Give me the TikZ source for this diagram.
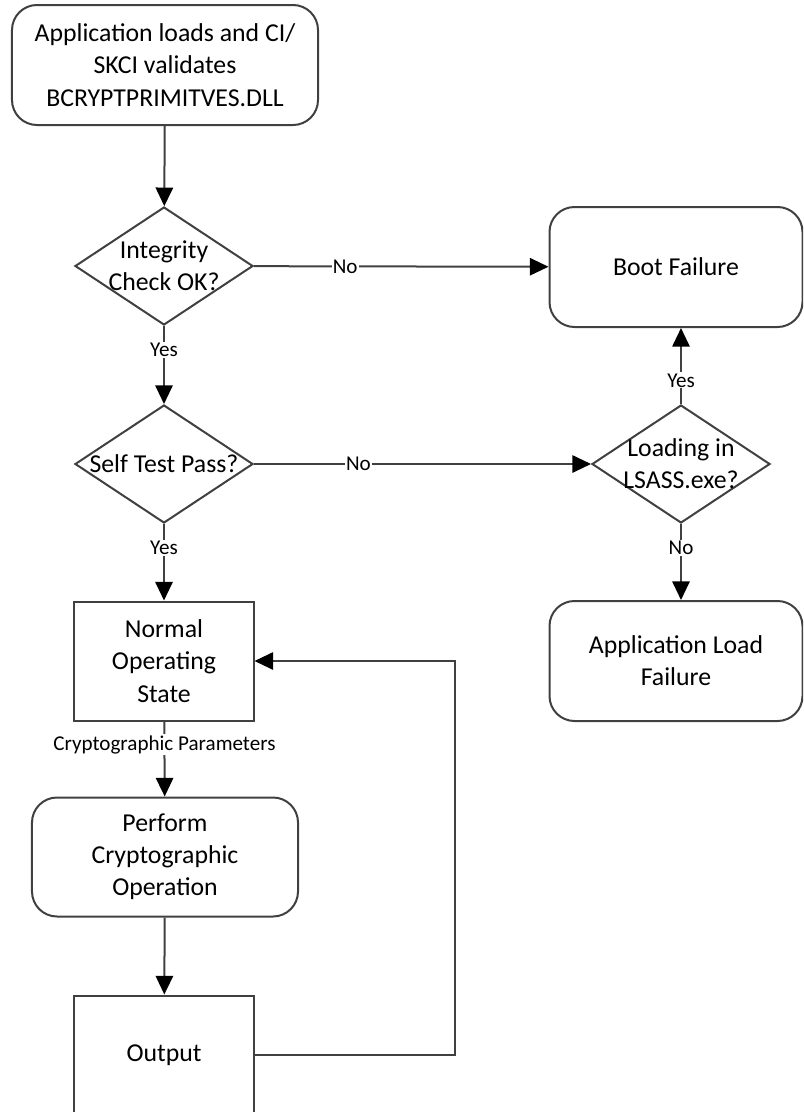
\documentclass[tikz,border=0pt]{standalone}
\usepackage{fontspec}
\setmainfont{Carlito}
\usetikzlibrary{shapes.geometric,arrows.meta}

\tikzset{
    flow/.style={draw=black!75, line width=0.06cm, -{Triangle[length=0.56cm,width=0.52cm,black]}},
    lab/.style={pos=0.31, fill=white, inner sep=1pt, font=\fontsize{18}{21}\selectfont},
    roundbox/.style={draw=black!75, line width=0.06cm, rounded corners=0.75cm, align=center, minimum height=3.6cm},
    plainbox/.style={draw=black!75, line width=0.06cm, align=center, minimum width=5.37cm, minimum height=3.57cm},
    decision/.style={draw=black!75, line width=0.06cm, diamond, inner sep=0pt, minimum width=5.34cm, minimum height=3.54cm}
}

\begin{document}
\begin{tikzpicture}[x=0.03cm, y=-0.03cm, font=\fontsize{22}{27.5}\selectfont]

    \useasboundingbox (0,0) rectangle (803,1112);
    \clip (0,0) rectangle (803,1112);
    
    
    \begin{scope}[]
    
    \node[roundbox, minimum width=9.18cm] (start) at (165,65) {Application loads and CI/\\SKCI validates\\BCRYPTPRIMITVES.DLL};
    \node[decision, label={[align=center]center:Integrity\\Check OK?}] (chk) at (164,266) {};
    \node[roundbox, minimum width=7.59cm] (boot) at (676,267) {Boot Failure};
    
    \node[decision, label={center:Self Test Pass?}] (self) at (164,464) {};
    \node[decision, label={[align=center]center:Loading in\\LSASS.exe?}] (lsass) at (681,464) {};
    
    \node[plainbox] (normal) at (164,661) {Normal\\Operating\\State};
    \node[roundbox, minimum width=7.59cm] (alf) at (676,661) {Application Load\\Failure};
    
    \node[roundbox, minimum width=7.98cm, minimum height=3.57cm] (perform) at (165,857) {Perform\\Cryptographic\\Operation};
    \node[plainbox, minimum width=5.4cm] (output) at (164,1055) {Output};
    
    \end{scope}
    
    
    
    \draw[flow] (start) -- (chk);
    \draw[flow] (chk) -- node[lab] {No} (boot);
    \draw[flow] (chk) -- node[lab] {Yes} (self);
    \draw[flow] (self) -- node[lab] {No} (lsass);
    \draw[flow] (self) -- node[lab] {Yes} (normal);
    \draw[flow] (lsass) -- node[lab] {Yes} (lsass |- boot.south);
    \draw[flow] (lsass) -- node[lab] {No} (lsass |- alf.north);
    \draw[flow] (normal) -- node[lab] {Cryptographic Parameters} (perform);
    \draw[flow] (perform) -- (output);
    
    \coordinate (back) at (455,0);
    \draw[flow] (output.east) -| (back |- output.east) |- (normal.east);
    
\end{tikzpicture}
\end{document}
